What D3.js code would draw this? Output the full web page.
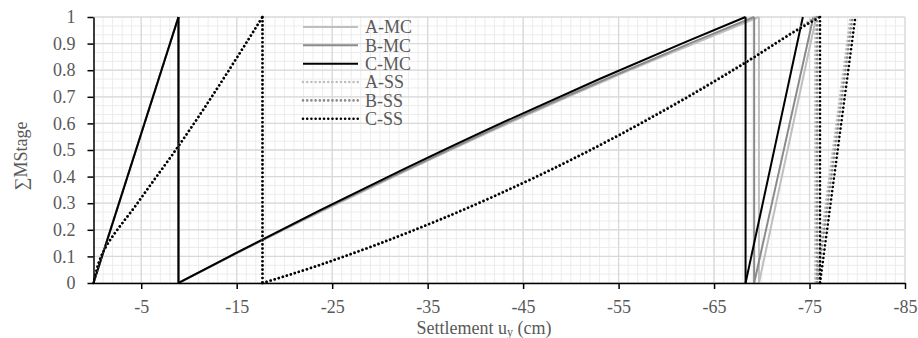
<!DOCTYPE html>
<html>
<head>
<meta charset="utf-8">
<script src="https://cdn.jsdelivr.net/npm/d3@7"></script>
<style>
  body { margin: 0; background: #fff; }
  svg text { font-family: "Liberation Serif", "Times New Roman", serif; }
</style>
</head>
<body>
<svg id="chart" width="918" height="338"></svg>
<script>
// series data: settlement (cm) and cumulative MStage
var seriesNames = ["A-MC", "B-MC", "C-MC", "A-SS", "B-SS", "C-SS"];

var aMcSettlement = [0, -8.9, -8.9, -15.1, -24.1, -33, -44.8, -54, -63.1, -69.7, -69.7, -75.7];
var aMcStage      = [0, 1, 0, 0.114, 0.273, 0.426, 0.622, 0.767, 0.903, 1, 0, 1];

var bMcSettlement = [0, -8.9, -8.9, -15.1, -23.9, -32.8, -44.5, -53.7, -62.6, -69.2, -69.2, -75.4];
var bMcStage      = [0, 1, 0, 0.114, 0.273, 0.426, 0.622, 0.767, 0.903, 1, 0, 1];

var cMcSettlement = [0, -8.9, -8.9, -15, -23.7, -32.4, -44, -53, -61.8, -68.3, -68.3, -74.3];
var cMcStage      = [0, 1, 0, 0.114, 0.273, 0.426, 0.622, 0.767, 0.903, 1, 0, 1];

var aSsSettlement = [0, -0.8, -4.8, -9, -17.7, -17.7, -21.6, -28, -35, -44.9, -53, -60, -68.2, -74, -75.6, -75.6, -79.3];
var aSsStage      = [0, 0.1, 0.31, 0.52, 1, 0, 0.044, 0.124, 0.221, 0.377, 0.52, 0.657, 0.83, 0.962, 1, 0, 1];

var bSsSettlement = [0, -0.8, -4.8, -9, -17.7, -17.7, -21.6, -28, -35, -44.9, -53, -60, -68.2, -74, -75.8, -75.8, -79.5];
var bSsStage      = [0, 0.1, 0.31, 0.52, 1, 0, 0.043, 0.123, 0.22, 0.375, 0.518, 0.655, 0.828, 0.96, 1, 0, 1];

var cSsSettlement = [0, -0.8, -4.8, -9, -17.7, -17.7, -21.6, -28, -35, -44.9, -53, -60, -68.2, -74, -76.1, -76.1, -79.8];
var cSsStage      = [0, 0.1, 0.31, 0.52, 1, 0, 0.043, 0.122, 0.219, 0.374, 0.517, 0.653, 0.826, 0.957, 1, 0, 1];

var xTicks = [-5, -15, -25, -35, -45, -55, -65, -75, -85];
var yTicks = [0, 0.1, 0.2, 0.3, 0.4, 0.5, 0.6, 0.7, 0.8, 0.9, 1];

(function() {
  var settlements = [aMcSettlement, bMcSettlement, cMcSettlement, aSsSettlement, bSsSettlement, cSsSettlement];
  var stages = [aMcStage, bMcStage, cMcStage, aSsStage, bSsStage, cSsStage];
  var colors = ["#bfbfbf", "#8a8a8a", "#000000", "#bfbfbf", "#8a8a8a", "#000000"];
  var dotted = [false, false, false, true, true, true];

  var svg = d3.select("#chart");
  var plotLeft = 93.5, plotRight = 905, plotTop = 17, plotBottom = 283;
  var serif = "'Liberation Serif', 'Times New Roman', serif";

  var x = d3.scaleLinear().domain([0, -85]).range([plotLeft, plotRight]);
  var y = d3.scaleLinear().domain([0, 1]).range([plotBottom, plotTop]);

  // grid: minor first, then major
  var grid = svg.append("g");
  grid.selectAll(".vminor")
      .data(d3.range(0, -86, -1))
    .enter().append("line")
      .attr("x1", d => x(d)).attr("x2", d => x(d))
      .attr("y1", plotTop).attr("y2", plotBottom)
      .attr("stroke", "#ececec").attr("stroke-width", 1);
  grid.selectAll(".hminor")
      .data(d3.range(0, 30).map(i => i / 30))
    .enter().append("line")
      .attr("x1", plotLeft).attr("x2", plotRight)
      .attr("y1", d => y(d)).attr("y2", d => y(d))
      .attr("stroke", "#ececec").attr("stroke-width", 1);
  grid.selectAll(".vmajor")
      .data(xTicks)
    .enter().append("line")
      .attr("x1", d => x(d)).attr("x2", d => x(d))
      .attr("y1", plotTop).attr("y2", plotBottom)
      .attr("stroke", "#d9d9d9").attr("stroke-width", 1.3);
  grid.selectAll(".hmajor")
      .data(yTicks)
    .enter().append("line")
      .attr("x1", plotLeft).attr("x2", plotRight)
      .attr("y1", d => y(d)).attr("y2", d => y(d))
      .attr("stroke", "#d9d9d9").attr("stroke-width", 1.3);

  // each loading stage is a smooth rising curve; stages are joined by straight drops
  var curve = d3.line()
      .x(d => x(d[0]))
      .y(d => y(d[1]))
      .curve(d3.curveMonotoneY);
  var straight = d3.line()
      .x(d => x(d[0]))
      .y(d => y(d[1]));

  function styleLine(sel, i) {
    sel.attr("fill", "none")
       .attr("stroke", colors[i]);
    if (dotted[i]) {
      sel.attr("stroke-width", 2.6)
         .attr("stroke-linecap", "round")
         .attr("stroke-dasharray", "0.01 4.2");
    } else {
      sel.attr("stroke-width", 2)
         .attr("stroke-linejoin", "round");
    }
  }

  seriesNames.forEach(function(name, i) {
    var pts = d3.zip(settlements[i], stages[i]);
    var segs = [[pts[0]]], drops = [];
    for (var k = 1; k < pts.length; k++) {
      if (pts[k][1] < pts[k - 1][1]) {
        drops.push([pts[k - 1], pts[k]]);
        segs.push([pts[k]]);
      } else {
        segs[segs.length - 1].push(pts[k]);
      }
    }
    var g = svg.append("g");
    drops.forEach(function(d) {
      g.append("path").datum(d).attr("d", straight).call(styleLine, i);
    });
    segs.forEach(function(s) {
      g.append("path").datum(s).attr("d", curve).call(styleLine, i);
    });
  });

  // axes
  var yAxis = svg.append("g")
      .attr("transform", "translate(" + plotLeft + ",0)")
      .call(d3.axisLeft(y).tickValues(yTicks).tickSize(6).tickSizeOuter(0).tickPadding(12)
        .tickFormat(d => String(+d.toFixed(1))));
  var xAxis = svg.append("g")
      .attr("transform", "translate(0," + plotBottom + ")")
      .call(d3.axisBottom(x).tickValues(xTicks).tickSize(6).tickSizeOuter(0).tickPadding(11)
        .tickFormat(d => String(d)));

  [xAxis, yAxis].forEach(function(a) {
    a.attr("font-family", serif).attr("font-size", 18);
    a.select(".domain").attr("stroke", "#000").attr("stroke-width", 1.5);
    a.selectAll(".tick line").attr("stroke", "#000").attr("stroke-width", 1.5);
    a.selectAll(".tick text").attr("fill", "#595959");
  });

  // axis titles
  svg.append("text")
      .attr("x", 484).attr("y", 334)
      .attr("text-anchor", "middle")
      .attr("fill", "#595959")
      .attr("font-family", serif)
      .style("font-size", "18px")
      .call(t => {
        t.append("tspan").text("Settlement u");
        t.append("tspan").text("y").style("font-size", "12px").attr("dy", 2);
        t.append("tspan").text(" (cm)").attr("dy", -2);
      });

  svg.append("text")
      .attr("transform", "translate(27,156) rotate(-90)")
      .attr("text-anchor", "middle")
      .attr("fill", "#595959")
      .attr("font-family", serif)
      .style("font-size", "18px")
      .text("\u2211MStage");

  // legend
  var legend = svg.append("g").attr("transform", "translate(303,27)");
  seriesNames.forEach(function(name, i) {
    var row = legend.append("g").attr("transform", "translate(0," + (i * 18.35) + ")");
    row.append("line")
       .attr("x1", 0).attr("x2", 55)
       .attr("y1", 0).attr("y2", 0)
       .call(styleLine, i);
    row.append("text")
       .attr("x", 62).attr("y", 0).attr("dy", "0.35em")
       .attr("fill", "#595959")
       .attr("font-family", serif)
       .style("font-size", "18px")
       .text(name);
  });
})();
</script>
</body>
</html>
